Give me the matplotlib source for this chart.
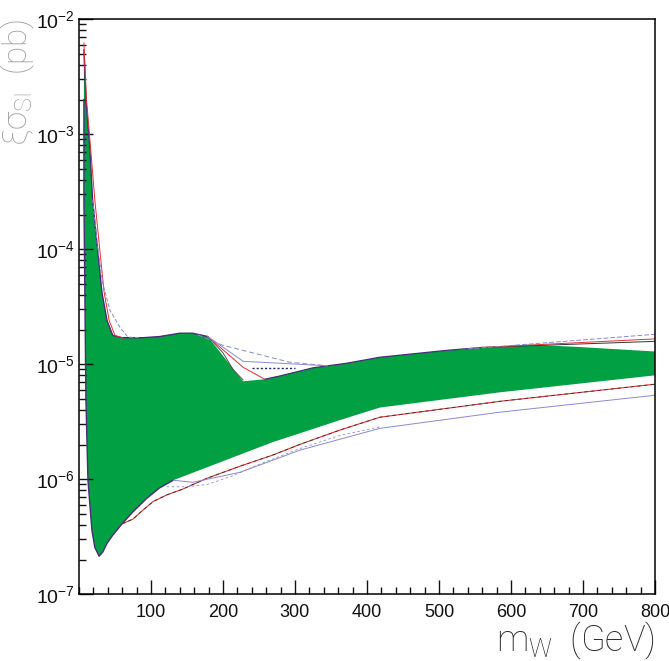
import numpy as np
import matplotlib
matplotlib.use("Agg")
import matplotlib.pyplot as plt
from matplotlib.ticker import MultipleLocator, LogLocator, FixedLocator, NullFormatter

plt.rcParams['font.family'] = ['Liberation Sans', 'DejaVu Sans']
plt.rcParams['mathtext.fontset'] = 'custom'
plt.rcParams['mathtext.rm'] = 'Liberation Sans'
plt.rcParams['mathtext.it'] = 'Liberation Sans'

# allowed region (green band): upper and lower edges, m_W in GeV, xi*sigma in pb
top_x = [6.9, 9.7, 15.3, 19, 26, 32, 39, 47, 60, 89, 112, 140, 158, 179,
         228, 258, 279, 325, 372, 418, 511, 626, 696, 800]
top_y = [5.4e-3, 2.0e-3, 7.2e-4, 2.7e-4, 9.8e-5, 4.2e-5, 2.4e-5, 1.78e-5, 1.70e-5,
         1.70e-5, 1.74e-5, 1.86e-5, 1.86e-5, 1.74e-5,
         7.1e-6, 7.4e-6, 7.9e-6, 9.3e-6, 1.02e-5, 1.15e-5, 1.32e-5, 1.48e-5, 1.41e-5, 1.29e-5]

bot_x = [6.9, 6.9, 8.3, 9.7, 12.5, 18, 22, 28, 33, 39, 47, 60, 75, 94, 112, 131,
         178, 269, 307, 362, 418, 585, 800]
bot_y = [2.0e-3, 2.67e-4, 3.6e-5, 4.9e-6, 9.8e-7, 3.6e-7, 2.56e-7, 2.14e-7, 2.32e-7,
         2.77e-7, 3.26e-7, 4.1e-7, 5.2e-7, 6.8e-7, 8.4e-7, 9.8e-7,
         1.27e-6, 2.10e-6, 2.51e-6, 3.26e-6, 4.2e-6, 5.7e-6, 8.0e-6]

# curves where they leave the band
red_left_x = [6.9, 10.5, 16.5, 22, 29, 35, 42, 50, 62]
red_left_y = [6.2e-3, 2.0e-3, 7.2e-4, 2.7e-4, 9.8e-5, 4.2e-5, 2.4e-5, 1.78e-5, 1.68e-5]
blue_left_x = [19, 26, 33, 43, 57, 68, 85]
blue_left_y = [2.7e-4, 1.05e-4, 5.06e-5, 2.95e-5, 2.09e-5, 1.72e-5, 1.70e-5]

red_mid_x = [179, 228, 258]
red_mid_y = [1.74e-5, 9.4e-6, 7.4e-6]
blue_mid_x = [179, 228, 279, 330, 345]
blue_mid_y = [1.74e-5, 1.06e-5, 1.02e-5, 9.8e-6, 9.7e-6]
bdash_mid_x = [165, 200, 293, 345]
bdash_mid_y = [1.8e-5, 1.46e-5, 1.04e-5, 9.7e-6]
dot_mid_x = [240, 300]
dot_mid_y = [9.2e-6, 9.2e-6]
black_mid_x = [179, 200, 214, 228]
black_mid_y = [1.74e-5, 1.26e-5, 9.0e-6, 7.3e-6]

red_right_x = [560, 800]
red_right_y = [1.40e-5, 1.66e-5]
black_right_x = [560, 800]
black_right_y = [1.40e-5, 1.58e-5]
bdash_right_x = [540, 800]
bdash_right_y = [1.36e-5, 1.82e-5]

red_low_x = [60, 75, 89, 103, 122, 144, 178, 224, 269, 307, 362, 418, 585, 800]
red_low_y = [4.1e-7, 4.5e-7, 5.4e-7, 6.4e-7, 7.3e-7, 8.2e-7, 1.02e-6, 1.30e-6,
             1.62e-6, 2.01e-6, 2.67e-6, 3.46e-6, 4.76e-6, 6.7e-6]
blue_low_x = [131, 158, 224, 307, 418, 585, 800]
blue_low_y = [9.8e-7, 9.4e-7, 1.15e-6, 1.79e-6, 2.77e-6, 3.83e-6, 5.37e-6]
bdash_low_x = [122, 150, 178, 210, 247, 307, 362, 418]
bdash_low_y = [8.6e-7, 8.6e-7, 9.0e-7, 1.05e-6, 1.32e-6, 1.85e-6, 2.4e-6, 2.85e-6]


fig = plt.figure(figsize=(6.69, 6.61), dpi=100)
ax = fig.add_axes([0.118, 0.101, 0.861, 0.870])
ax.set_yscale('log')

green = '#00a043'
edge = '#4a2c78'
red = '#e03030'
blue = '#8a8ad0'

ax.fill(np.r_[top_x, bot_x[::-1]], np.r_[top_y, bot_y[::-1]], color=green, lw=0)

# band edges where the curves lie on top of it
ax.plot(top_x[:14], top_y[:14], color=edge, lw=1.0)
ax.plot(top_x[15:21] + [560], top_y[15:21] + [1.40e-5], color=edge, lw=0.9)
ax.plot(bot_x[:16], bot_y[:16], color=edge, lw=1.0)

ax.plot(red_left_x, red_left_y, color=red, lw=0.7)
ax.plot(blue_left_x, blue_left_y, color=blue, lw=0.7, ls=(0, (4, 2)))

ax.plot(black_mid_x, black_mid_y, color='#555555', lw=0.7)
ax.plot(red_mid_x, red_mid_y, color=red, lw=0.7)
ax.plot(blue_mid_x, blue_mid_y, color=blue, lw=0.7)
ax.plot(bdash_mid_x, bdash_mid_y, color=blue, lw=0.7, ls=(0, (5, 3)))
ax.plot(dot_mid_x, dot_mid_y, color='#202080', lw=1.0, ls=(0, (1.5, 1.5)))

ax.plot(black_right_x, black_right_y, color='#333333', lw=0.7)
ax.plot(red_right_x, red_right_y, color=red, lw=0.7)
ax.plot(bdash_right_x, bdash_right_y, color=blue, lw=0.7, ls=(0, (5, 2)))

ax.plot(red_low_x, red_low_y, color=red, lw=0.8)
ax.plot(red_low_x, red_low_y, color='#333333', lw=0.6, ls=(0, (4, 4)))
ax.plot(blue_low_x, blue_low_y, color=blue, lw=0.7)
ax.plot(bdash_low_x, bdash_low_y, color=blue, lw=0.6, ls=(0, (3, 3)))

ax.set_xlim(0, 800)
ax.set_ylim(1e-7, 1e-2)

ax.xaxis.set_major_locator(FixedLocator([100, 200, 300, 400, 500, 600, 700, 800]))
ax.xaxis.set_minor_locator(MultipleLocator(20))
ax.yaxis.set_major_locator(LogLocator(base=10, numticks=10))
ax.yaxis.set_minor_locator(LogLocator(base=10, subs=np.arange(2, 10), numticks=10))
ax.yaxis.set_minor_formatter(NullFormatter())

ax.tick_params(which='both', direction='in', top=False, right=False,
               colors='#111111', pad=5)
ax.tick_params(axis='x', labelsize=13, pad=7)
ax.tick_params(axis='y', labelsize=14, pad=3)
ax.tick_params(which='major', length=10, width=1)
ax.tick_params(which='minor', length=5, width=1)
for s in ax.spines.values():
    s.set_linewidth(1.1)

ax.set_xlabel(r'$\mathregular{m_W\;\;(GeV)}$', fontsize=26, color='#2a2a2a',
              family='Roboto', fontweight='light', loc='right')
ax.xaxis.set_label_coords(1.0, -0.045)
ax.set_ylabel(r'$\mathregular{\xi\sigma_{SI}\;\;(pb)}$', fontsize=24, color='#a0a0a0',
              family='Roboto', fontweight='light', loc='top')
ax.yaxis.set_label_coords(-0.073, 1.0)

fig.savefig('out.png', dpi=100)
